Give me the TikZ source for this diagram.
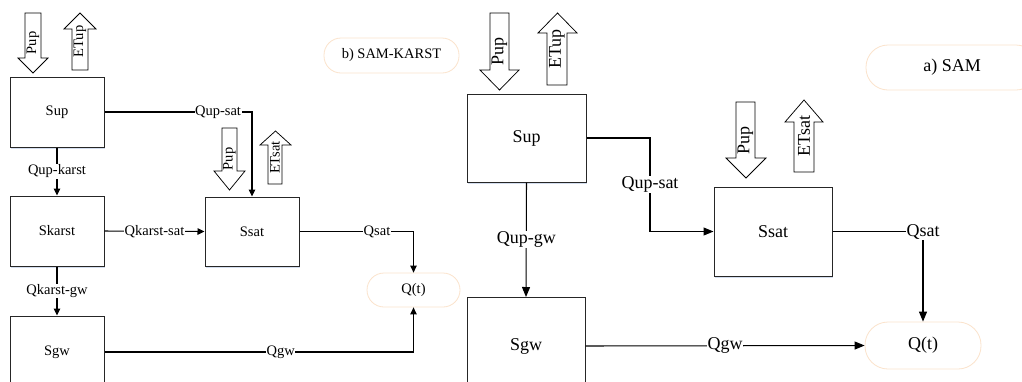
\documentclass[tikz,border=0pt]{standalone}
\usepackage{fontspec}
\setmainfont{Liberation Serif}
\usetikzlibrary{arrows.meta,shadows}
\definecolor{peach}{HTML}{FBE3CC}
\definecolor{shade}{HTML}{D3DDEE}
\tikzset{
  box/.style={draw=black!85, line width=1pt, fill=white, inner sep=0pt,
    drop shadow={shadow xshift=0.6pt, shadow yshift=-1.6pt, fill=shade, opacity=1}},
  oval/.style={draw=peach, line width=0.8pt, fill=white, inner sep=0pt},
  conn/.style={line width=1.05pt, black},
  lbl/.style={fill=white, inner sep=0.6pt},
  blk/.style={draw=black, line width=0.75pt, fill=white, line join=miter},
  tipS/.style={-{Triangle[length=7pt,width=6.5pt]}},
  tipL/.style={-{Triangle[length=10pt,width=8pt]}},
  fs/.style={font=\fontsize{14.5}{16}\selectfont},
  fl/.style={font=\fontsize{18}{20}\selectfont},
}
% down block arrow: name, shaft l, shaft r, head l, head r, top, head start, tip, label
\newcommand\bkdown[9]{%
  \draw[blk] (#2,#6) -- (#3,#6) -- (#3,#7) -- (#5,#7) -- ({(#4+#5)/2},#8) -- (#4,#7) -- (#2,#7) -- cycle;
  \node[rotate=90, inner sep=0pt] (#1) at ({(#2+#3)/2},{(#6+#8)/2}) {#9};}
% up block arrow: name, shaft l, shaft r, head l, head r, top, head bottom, bottom, label
\newcommand\bkup[9]{%
  \draw[blk] ({(#4+#5)/2},#6) -- (#5,#7) -- (#3,#7) -- (#3,#8) -- (#2,#8) -- (#2,#7) -- (#4,#7) -- cycle;
  \node[rotate=90, inner sep=0pt] (#1) at ({(#2+#3)/2},{(#6+#8)/2}) {#9};}
\begin{document}
\begin{tikzpicture}[x=1pt,y=-1pt]
\clip (0,0) rectangle (1022,381);
\fill[white] (0,0) rectangle (1022,381);

% ---------------- b) SAM-KARST (left) ----------------
\begin{scope}[fs]
\node[oval, minimum width=135pt, minimum height=35pt, rounded corners=17pt] (titleB) at (391.5,55.5) {b) SAM-KARST};

\node[box, minimum width=94pt, minimum height=70pt] (supL) at (57,112) {Sup};
\node[box, minimum width=94pt, minimum height=70pt] (skarst) at (57,231) {Skarst};
\node[box, minimum width=94pt, minimum height=69pt] (ssatL) at (252,231.5) {Ssat};
\node[box, minimum width=94pt, minimum height=72pt] (sgwL) at (57,352) {Sgw};
\node[oval, minimum width=93pt, minimum height=34pt, rounded corners=17pt] (qtL) at (413.5,290) {Q(t)};

\bkdown{pupL}{25}{41}{18}{48}{13}{58}{73}{Pup}
\bkup{etupL}{72}{88}{64}{96}{13}{29}{70}{ETup}
\bkdown{pupSL}{222}{237}{214}{245}{128}{171}{190}{Pup}
\bkup{etsatL}{268}{282}{260}{291}{131}{145}{184}{ETsat}

\draw[conn, tipS] (supL.east) -| node[lbl, pos=0.385] {Qup-sat} (ssatL.north);
\draw[conn, tipS] (supL.south) -- node[lbl] {Qup-karst} (skarst.north);
\draw[conn, tipS] (skarst.east) -- node[lbl] {Qkarst-sat} (ssatL.west);
\draw[conn, tipS] (skarst.south) -- node[lbl] {Qkarst-gw} (sgwL.north);
\draw[conn, tipS] (ssatL.east) -| node[lbl, pos=0.34] {Qsat} (qtL.north);
\draw[conn, tipS] (sgwL.east) -| node[lbl, pos=0.285] {Qgw} (qtL.south);
\end{scope}

% ---------------- a) SAM (right) ----------------
\begin{scope}[fl]
\node[oval, minimum width=172pt, minimum height=45pt, rounded corners=22pt] (titleA) at (952,67.5) {a) SAM};

\node[box, minimum width=119pt, minimum height=88pt] (supR) at (526.5,138) {Sup};
\node[box, minimum width=118pt, minimum height=89pt] (ssatR) at (773,231.5) {Ssat};
\node[box, minimum width=118pt, minimum height=97pt] (sgwR) at (526,346) {Sgw};
\node[oval, minimum width=116pt, minimum height=47pt, rounded corners=23pt] (qtR) at (923,345.5) {Q(t)};

\bkdown{pupR}{490}{509}{480}{519}{13}{70}{90}{Pup}
\bkup{etupR}{547}{567}{538}{577}{13}{33}{85}{ETup}
\bkdown{pupSR}{736}{755}{726}{766}{102}{158}{178}{Pup}
\bkup{etsatR}{794}{814}{785}{823}{100}{122}{172}{ETsat}

\coordinate (cR) at (650,138);
\draw[conn, tipL] (supR.east) -- (cR) |- node[lbl, pos=0.25] {Qup-sat} (ssatR.west);
\draw[conn, tipL] (supR.south) -- node[lbl] {Qup-gw} (sgwR.north);
\draw[conn, tipL] (ssatR.east) -| node[lbl, pos=0.5] {Qsat} (qtR.north);
\draw[conn, tipL] (sgwR.east) -- node[lbl] {Qgw} (qtR.west);
\end{scope}
\end{tikzpicture}
\end{document}
